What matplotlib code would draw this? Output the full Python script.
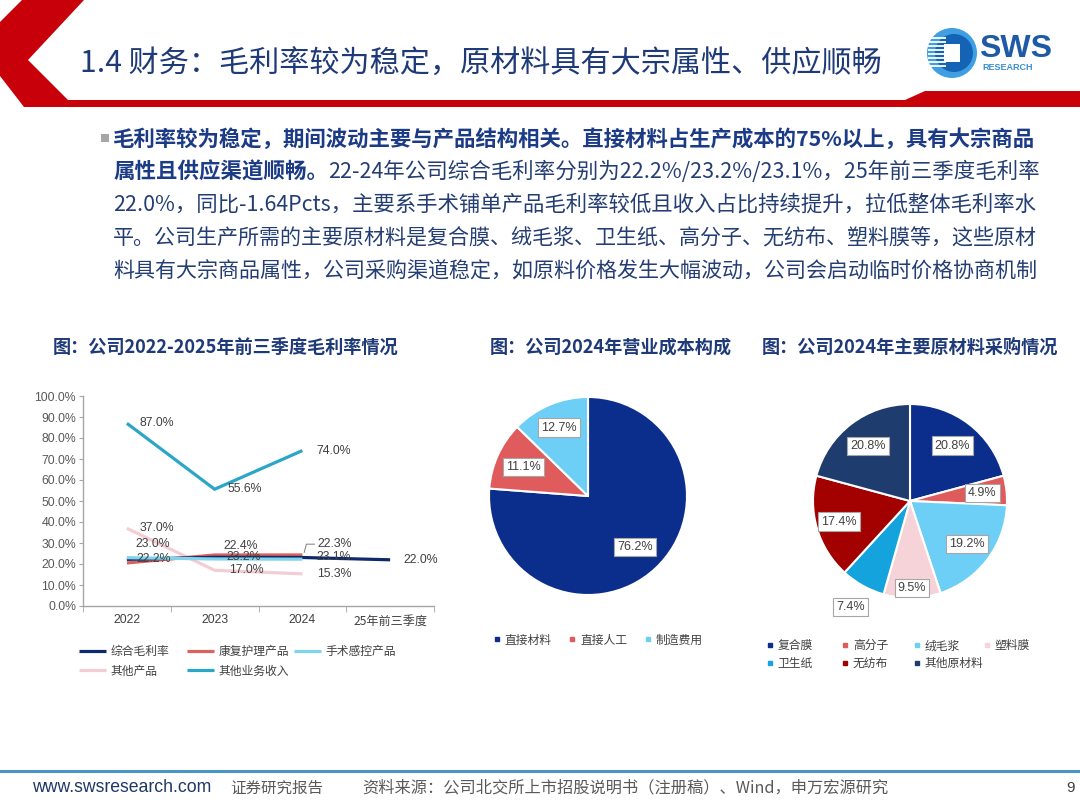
import matplotlib
matplotlib.use('Agg')
import matplotlib.pyplot as plt
import numpy as np
from matplotlib.patches import Polygon, Circle, Rectangle
from matplotlib.lines import Line2D

plt.rcParams['font.family'] = ['Noto Sans CJK SC', 'DejaVu Sans']

# ---------------- data ----------------
years = ['2022', '2023', '2024', '25年前三季度']
line_names = ['综合毛利率', '康复护理产品', '手术感控产品', '其他产品', '其他业务收入']
gm_total = [22.2, 23.2, 23.1, 22.0]
gm_rehab = [20.5, 24.3, 24.3, np.nan]
gm_surgical = [23.0, 22.4, 22.3, np.nan]
gm_other_prod = [37.0, 17.0, 15.3, np.nan]
gm_other_biz = [87.0, 55.6, 74.0, np.nan]

cost_labels = ['直接材料', '直接人工', '制造费用']
cost_values = [76.2, 11.1, 12.7]

mat_labels = ['复合膜', '高分子', '绒毛浆', '塑料膜', '卫生纸', '无纺布', '其他原材料']
mat_values = [20.8, 4.9, 19.2, 9.5, 7.4, 17.4, 20.8]

# ---------------- styles ----------------
C_NAVY = '#0f2a6b'
C_RED = '#d9625e'
C_LBLUE = '#80d4ec'
C_PINK = '#f4cdd4'
C_TEAL = '#2ba6c9'
cost_colors = ['#0b2e8c', '#e05b5b', '#6dcff6']
mat_colors = ['#0b2e8c', '#e05b5b', '#6dcff6', '#f6d3d9', '#14a3dc', '#a30000', '#1f3c6e']
TXT = '#404040'
TITLE_C = '#1f3a78'
NUMFONT = ['Liberation Sans', 'DejaVu Sans']

W, H = 1080, 810
fig = plt.figure(figsize=(10.8, 8.1), dpi=100)

def fbox(x0, y0, w, h):
    return [x0 / W, 1 - (y0 + h) / H, w / W, h / H]

bg = fig.add_axes([0, 0, 1, 1])
bg.set_xlim(0, W)
bg.set_ylim(H, 0)
bg.axis('off')

# header red band
bg.add_patch(Polygon([(22, 0), (84, 0), (28, 60), (68, 100), (905, 100), (925, 91),
                      (1080, 91), (1080, 107), (24, 107), (0, 76), (0, 22)],
                     closed=True, facecolor='#c8000a', edgecolor='none'))
bg.text(80, 64, '1.4 财务：毛利率较为稳定，原材料具有大宗属性、供应顺畅', fontsize=21.7,
        color=TITLE_C, va='center', ha='left')

# logo
bg.add_patch(Circle((952, 53), 25, facecolor='#3f9fe2', edgecolor='none'))
bg.add_patch(Circle((954, 53), 19, facecolor='#1463b5', edgecolor='none'))
for yy in range(38, 70, 4):
    bg.plot([928, 946], [yy, yy], color='white', lw=1.3, solid_capstyle='butt')
bg.add_patch(Rectangle((944, 44), 16, 18, facecolor='white', edgecolor='none'))
bg.text(979, 49, 'SWS', fontsize=23, fontweight='bold', color='#1f5aa6', va='center',
        ha='left', family=NUMFONT)
bg.text(982, 67, 'RESEARCH', fontsize=6.5, fontweight='bold', color='#3a8fd0', va='center',
        ha='left', family=NUMFONT)

# body text
bg.add_patch(Rectangle((101, 134), 8, 8, facecolor='#a6a6a6', edgecolor='none'))
BOLD_C = '#1c3b87'
REG_C = '#243d73'
FS = 15.5
X0, XR = 113, 1037
ys = [139, 172, 205, 238, 271]
t1 = bg.text(X0, ys[0], '毛利率较为稳定，期间波动主要与产品结构相关。直接材料占生产成本的75%以上，具有大宗商品',
             fontsize=FS, fontweight='bold', color=BOLD_C, va='center', ha='left')
t2 = bg.text(X0, ys[1], '属性且供应渠道顺畅。', fontsize=FS, fontweight='bold', color=BOLD_C,
             va='center', ha='left')
t2b = bg.annotate('22-24年公司综合毛利率分别为22.2%/23.2%/23.1%，25年前三季度毛利率', xy=(1, 0.5),
                  xycoords=t2, va='center', ha='left', fontsize=FS, color=REG_C)
t3 = bg.text(X0, ys[2], '22.0%，同比-1.64Pcts，主要系手术铺单产品毛利率较低且收入占比持续提升，拉低整体毛利率水',
             fontsize=FS, color=REG_C, va='center', ha='left')
t4 = bg.text(X0, ys[3], '平。公司生产所需的主要原材料是复合膜、绒毛浆、卫生纸、高分子、无纺布、塑料膜等，这些原材',
             fontsize=FS, color=REG_C, va='center', ha='left')
t5 = bg.text(X0, ys[4], '料具有大宗商品属性，公司采购渠道稳定，如原料价格发生大幅波动，公司会启动临时价格协商机制',
             fontsize=FS, color=REG_C, va='center', ha='left')

# chart titles
bg.text(53, 347, '图：公司2022-2025年前三季度毛利率情况', fontsize=13.1, fontweight='bold',
        color=TITLE_C, va='center', ha='left')
bg.text(490, 347, '图：公司2024年营业成本构成', fontsize=13.1, fontweight='bold',
        color=TITLE_C, va='center', ha='left')
bg.text(762, 347, '图：公司2024年主要原材料采购情况', fontsize=13.1, fontweight='bold',
        color=TITLE_C, va='center', ha='left')

# footer
bg.plot([0, 1080], [770.5, 770.5], color='#4a95c6', lw=2.2)
bg.text(32, 788, 'www.swsresearch.com', fontsize=12.7, color='#1f3864', va='center', ha='left',
        family=NUMFONT)
bg.text(230, 788, '证券研究报告', fontsize=11.2, color='#595959', va='center', ha='left')
bg.text(362, 788, '资料来源：公司北交所上市招股说明书（注册稿）、Wind，申万宏源研究', fontsize=11.7,
        color='#595959', va='center', ha='left')
bg.text(1066, 788, '9', fontsize=11, color=TXT, va='center', ha='left', family=NUMFONT)

# ---------------- line chart ----------------
ax1 = fig.add_axes(fbox(83, 396, 351, 210))
x = np.arange(len(years))
series = [
    (gm_other_prod, C_PINK, '其他产品'),
    (gm_rehab, C_RED, '康复护理产品'),
    (gm_total, C_NAVY, '综合毛利率'),
    (gm_surgical, C_LBLUE, '手术感控产品'),
    (gm_other_biz, C_TEAL, '其他业务收入'),
]
handles = {}
for vals, col, name in series:
    h, = ax1.plot(x, vals, color=col, lw=2.3, solid_capstyle='butt', solid_joinstyle='miter')
    handles[name] = h

ax1.set_xlim(-0.5, 3.5)
ax1.set_ylim(0, 100)
ax1.set_yticks(np.arange(0, 101, 10))
ax1.set_yticklabels([f'{v:.1f}%' for v in np.arange(0, 101, 10)], family=NUMFONT)
ax1.set_xticks(x)
ax1.set_xticklabels(years)
for lab in ax1.get_xticklabels()[:3]:
    lab.set_family(NUMFONT)
ax1.set_xticks(np.arange(-0.5, 3.6, 1), minor=True)
ax1.tick_params(axis='x', which='major', length=0, labelsize=8.7, labelcolor=TXT, pad=6)
ax1.tick_params(axis='x', which='minor', length=4, color='#a6a6a6')
ax1.tick_params(axis='y', length=3, color='#a6a6a6', labelsize=8.8, labelcolor='#595959', pad=2)
for s in ['top', 'right']:
    ax1.spines[s].set_visible(False)
for s in ['left', 'bottom']:
    ax1.spines[s].set_color('#a6a6a6')
    ax1.spines[s].set_linewidth(1)

PX = 0.72  # points per pixel

def lab(xi, v, dx=12, dy=0, leader=False):
    kw = dict(xy=(xi, v), xytext=(dx * PX, dy * PX), textcoords='offset points',
              ha='left', va='center', fontsize=8.8, color=TXT, family=NUMFONT)
    if leader:
        kw['arrowprops'] = dict(arrowstyle='-', color='#7f7f7f', lw=0.7, shrinkA=0, shrinkB=5,
                                relpos=(0, 0.5), connectionstyle='angle,angleA=0,angleB=75,rad=0')
    ax1.annotate(f'{v:.1f}%', **kw)

for i in range(3):
    lab(i, gm_other_biz[i], dx=13 if i < 2 else 14)
lab(0, gm_other_prod[0], 13)
lab(1, gm_other_prod[1], 14)
lab(2, gm_other_prod[2], 15)
lab(0, gm_surgical[0], 9, 14)
lab(1, gm_surgical[1], 9, 13)
lab(2, gm_surgical[2], 15, 15, leader=True)
lab(0, gm_total[0], 10)
lab(1, gm_total[1], 12)
lab(2, gm_total[2], 14)
lab(3, gm_total[3], 13)

# line legend as three columns
cols = [['综合毛利率', '其他产品'], ['康复护理产品', '其他业务收入'], ['手术感控产品']]
for cx, names in zip([79, 187, 294], cols):
    fig.legend([handles[n] for n in names], names, loc='upper left',
               bbox_to_anchor=(cx / W, 1 - 645 / H), frameon=False, fontsize=8.5,
               handlelength=2.3, handletextpad=0.4, borderpad=0, borderaxespad=0,
               labelspacing=0.55, labelcolor=TXT)

# ---------------- pie 1 ----------------
def pie_axes(cx, cy, r):
    s = 2.5 * r
    return fig.add_axes(fbox(cx - s / 2, cy - s / 2, s, s))

ax2 = pie_axes(588, 496, 99)
w2, _ = ax2.pie(cost_values, colors=cost_colors, startangle=90, counterclock=False,
                wedgeprops=dict(edgecolor='white', linewidth=1.5))
ax2.set_xlim(-1.25, 1.25)
ax2.set_ylim(-1.25, 1.25)
ax2.set_aspect('equal')
BOX = dict(boxstyle='square,pad=0.25', facecolor='white', edgecolor='#a6a6a6', lw=0.8)
for w, v, d in zip(w2, cost_values, [0.70, 0.72, 0.75]):
    ang = np.deg2rad((w.theta1 + w.theta2) / 2)
    ax2.text(d * np.cos(ang), d * np.sin(ang), f'{v:.1f}%', ha='center', va='center',
             fontsize=9, color=TXT, family=NUMFONT, bbox=BOX)

sq = lambda c: Line2D([], [], marker='s', markersize=3.5, linestyle='none', color=c)
fig.legend([sq(c) for c in cost_colors], cost_labels, loc='center left',
           bbox_to_anchor=(493 / W, 1 - 640 / H), ncol=3, frameon=False, fontsize=8.5,
           handlelength=0.7, handletextpad=0.3, columnspacing=1.4, borderpad=0, borderaxespad=0,
           labelcolor=TXT)

# ---------------- pie 2 ----------------
ax3 = pie_axes(910, 501, 97)
w3, _ = ax3.pie(mat_values, colors=mat_colors, startangle=90, counterclock=False,
                wedgeprops=dict(edgecolor='white', linewidth=1.5))
ax3.set_xlim(-1.25, 1.25)
ax3.set_ylim(-1.25, 1.25)
ax3.set_aspect('equal')
for w, v, d in zip(w3, mat_values, [0.72, 0.75, 0.74, 0.9, 1.25, 0.76, 0.71]):
    ang = np.deg2rad((w.theta1 + w.theta2) / 2)
    ax3.text(d * np.cos(ang), d * np.sin(ang), f'{v:.1f}%', ha='center', va='center',
             fontsize=9, color=TXT, family=NUMFONT, bbox=BOX)

mcols = [[0, 4], [1, 5], [2, 6], [3]]
for cx, idx in zip([766, 841, 913, 983], mcols):
    fig.legend([sq(mat_colors[i]) for i in idx], [mat_labels[i] for i in idx],
               loc='upper left', bbox_to_anchor=(cx / W, 1 - 639 / H), frameon=False,
               fontsize=8.5, handlelength=0.7, handletextpad=0.3, borderpad=0, borderaxespad=0,
               labelspacing=0.45, labelcolor=TXT)

# fit body lines to the justified width
fig.canvas.draw()
rend = fig.canvas.get_renderer()
for group in [[t1], [t2, t2b], [t3], [t4], [t5]]:
    wsum = sum(t.get_window_extent(rend).width for t in group)
    scale = (XR - X0) / wsum
    for t in group:
        t.set_fontsize(t.get_fontsize() * scale)

fig.savefig('out.png', dpi=100)
